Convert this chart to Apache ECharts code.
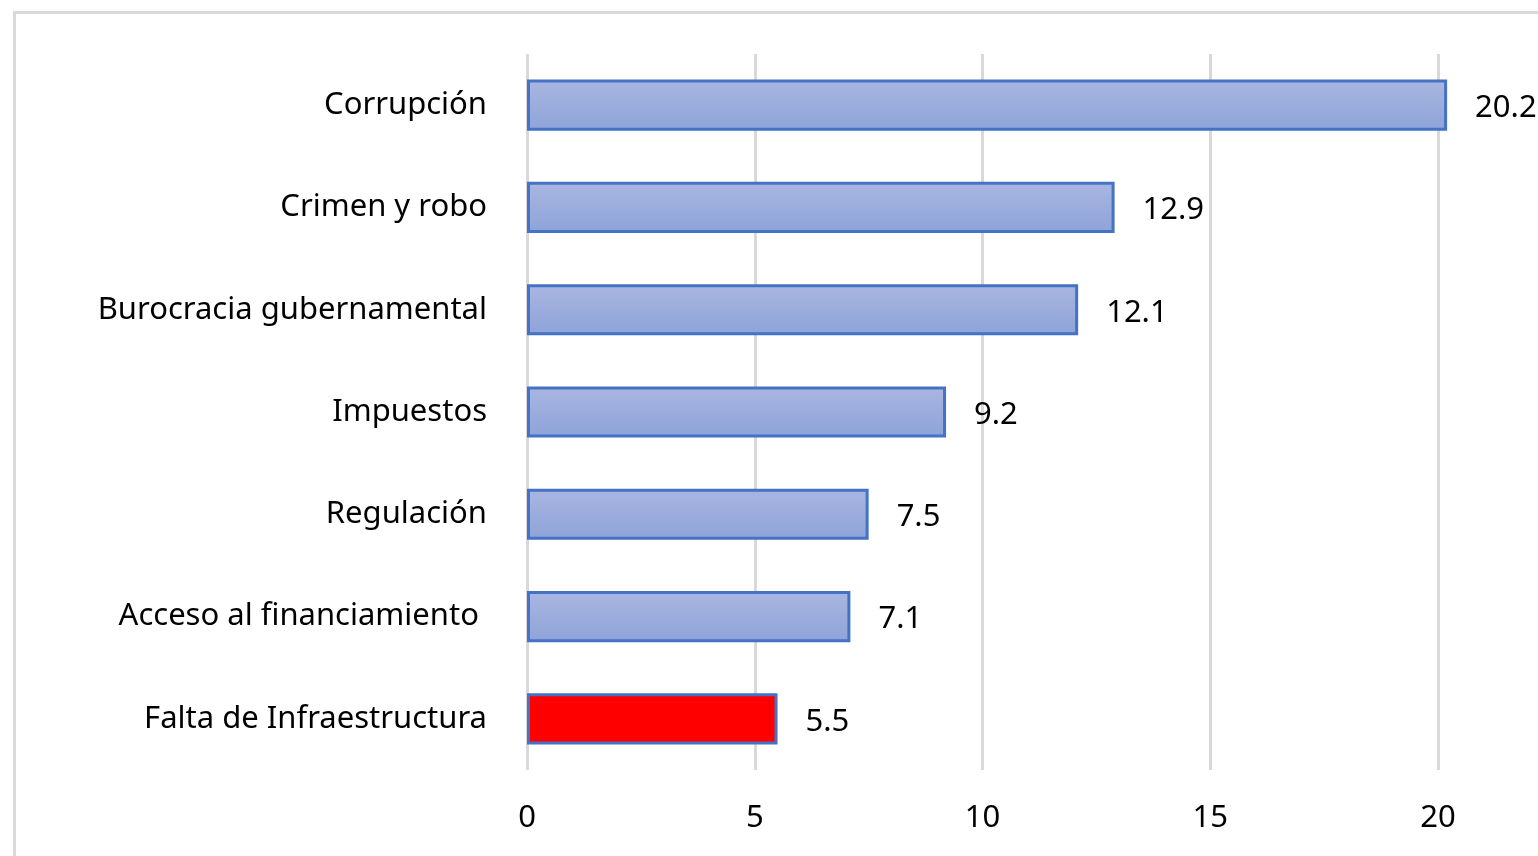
<!DOCTYPE html>
<html>
<head>
<meta charset="utf-8">
<script src="https://cdn.jsdelivr.net/npm/echarts@6/dist/echarts.min.js"></script>
<style>
  html, body { margin: 0; padding: 0; background: #fff; }
  #chart { width: 1538px; height: 856px; }
</style>
</head>
<body>
<div id="chart"></div>
<script>
// categorias de abajo hacia arriba
var categories = ['Falta de Infraestructura', 'Acceso al financiamiento ', 'Regulación', 'Impuestos',
    'Burocracia gubernamental', 'Crimen y robo', 'Corrupción'];
var values = [5.5, 7.1, 7.5, 9.2, 12.1, 12.9, 20.2];
var highlight = 'Falta de Infraestructura';
var xTicks = [0, 5, 10, 15, 20];

var font = '"Noto Sans", "Open Sans", sans-serif';
var $e = echarts.init(document.getElementById('chart'));

var blueFill = new echarts.graphic.LinearGradient(0, 0, 0, 1, [
    { offset: 0, color: '#aab6e1' },
    { offset: 1, color: '#8da3d8' }
]);

var option = {
    animation: false,
    backgroundColor: '#fff',
    graphic: [{
        type: 'rect',
        left: 12,
        top: 10,
        shape: { width: 1700, height: 1000 },
        style: { fill: 'none', stroke: '#d9d9d9', lineWidth: 3 },
        silent: true
    }],
    grid: {
        left: 527,
        right: 100,
        top: 54,
        bottom: 86,
        containLabel: false
    },
    xAxis: {
        type: 'value',
        min: xTicks[0],
        max: xTicks[xTicks.length - 1],
        interval: 5,
        axisLine: { show: false },
        axisTick: { show: false },
        splitLine: { lineStyle: { color: '#d9d9d9', width: 3 } },
        axisLabel: {
            fontFamily: font,
            fontSize: 31,
            color: '#000',
            margin: 33
        }
    },
    yAxis: {
        type: 'category',
        data: categories,
        axisLine: { show: false },
        axisTick: { show: false },
        axisLabel: {
            fontFamily: font,
            fontSize: 31,
            color: '#000',
            margin: 40
        }
    },
    series: [{
        type: 'bar',
        clip: false,
        barWidth: '50%',
        data: values.map(function (v, i) {
            return {
                value: v,
                itemStyle: {
                    color: categories[i] === highlight ? '#ff0000' : blueFill
                }
            };
        }),
        itemStyle: {
            borderColor: '#4472c4',
            borderWidth: 3
        },
        label: {
            show: true,
            position: 'right',
            distance: 28,
            fontFamily: font,
            fontSize: 31,
            color: '#000',
            offset: [0, 3]
        }
    }]
};

$e.setOption(option);
window.onresize = function () {
    $e.resize();
};
</script>
</body>
</html>
